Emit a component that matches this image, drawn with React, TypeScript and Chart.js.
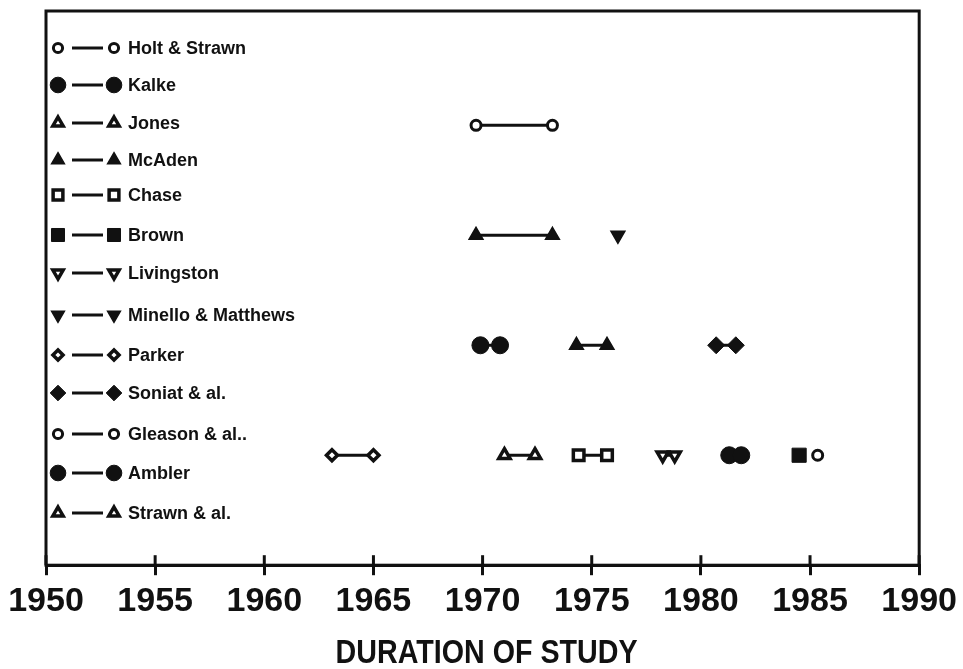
import React, { useEffect, useRef } from "react";
import { Chart, registerables } from "chart.js";
import { drawPoint } from "chart.js/helpers";

Chart.register(...registerables);

// ---- data ----
const studies = [
  "Holt & Strawn",
  "Kalke",
  "Jones",
  "McAden",
  "Chase",
  "Brown",
  "Livingston",
  "Minello & Matthews",
  "Parker",
  "Soniat & al.",
  "Gleason & al..",
  "Ambler",
  "Strawn & al.",
];

// each study period: which study, which row, start year, end year
const segStudy = [
  "Holt & Strawn",
  "McAden",
  "Minello & Matthews",
  "Kalke",
  "McAden",
  "Soniat & al.",
  "Parker",
  "Jones",
  "Chase",
  "Livingston",
  "Ambler",
  "Brown",
  "Gleason & al..",
];
const segRow = [4, 3, 3, 2, 2, 2, 1, 1, 1, 1, 1, 1, 1];
const segStart = [1969.7, 1969.7, 1976.2, 1969.9, 1974.3, 1980.7, 1963.1, 1971.0, 1974.4, 1978.25, 1981.3, 1984.5, 1985.35];
const segEnd = [1973.2, 1973.2, 1976.2, 1970.8, 1975.7, 1981.6, 1965.0, 1972.4, 1975.7, 1978.8, 1981.85, 1984.5, 1985.35];

const xMin = 1950;
const xMax = 1990;
const xStep = 5;
const axisTitle = "DURATION OF STUDY";

// ---- styles (per study, same order as `studies`) ----
type MStyle = { shape: string; filled: boolean; rot: number; r: number; bw: number };
const markerStyles: MStyle[] = [
  { shape: "circle", filled: false, rot: 0, r: 5, bw: 3 },
  { shape: "circle", filled: true, rot: 0, r: 8.5, bw: 1 },
  { shape: "triangle", filled: false, rot: 0, r: 6.5, bw: 3.5 },
  { shape: "triangle", filled: true, rot: 0, r: 8, bw: 1.5 },
  { shape: "rect", filled: false, rot: 0, r: 7.5, bw: 3.5 },
  { shape: "rect", filled: true, rot: 0, r: 10, bw: 1 },
  { shape: "triangle", filled: false, rot: 180, r: 6.5, bw: 3.5 },
  { shape: "triangle", filled: true, rot: 180, r: 8, bw: 1.5 },
  { shape: "rectRot", filled: false, rot: 0, r: 5.5, bw: 3.5 },
  { shape: "rectRot", filled: true, rot: 0, r: 8.5, bw: 1 },
  { shape: "circle", filled: false, rot: 0, r: 5, bw: 3 },
  { shape: "circle", filled: true, rot: 0, r: 8.5, bw: 1 },
  { shape: "triangle", filled: false, rot: 0, r: 6.5, bw: 3.5 },
];
const legendOffsets = [37, 74, 112, 149, 184, 224, 262, 304, 344, 382, 423, 462, 502];

const BLACK = "#111111";

const frameAndLegend = {
  id: "frameAndLegend",
  afterDraw(chart: any) {
    const { ctx, chartArea } = chart;
    const xs = chart.scales.x;
    ctx.save();
    // frame
    ctx.strokeStyle = BLACK;
    ctx.lineWidth = 3;
    ctx.strokeRect(chartArea.left, chartArea.top, chartArea.right - chartArea.left, chartArea.bottom - chartArea.top);
    // inward tick marks
    for (const t of xs.ticks) {
      const px = xs.getPixelForValue(t.value);
      ctx.beginPath();
      ctx.moveTo(px, chartArea.bottom);
      ctx.lineTo(px, chartArea.bottom - 10);
      ctx.stroke();
    }
    // axis title (condensed)
    ctx.font = "bold 34px 'Liberation Sans', Arial, sans-serif";
    ctx.textBaseline = "middle";
    ctx.textAlign = "center";
    ctx.fillStyle = BLACK;
    const w = ctx.measureText(axisTitle).width;
    const cx = (chartArea.left + chartArea.right) / 2 + 4;
    ctx.save();
    ctx.translate(cx, 654);
    ctx.scale(302 / w, 1);
    ctx.fillText(axisTitle, 0, 0);
    ctx.restore();
    // legend
    ctx.font = "bold 18px 'Liberation Sans', Arial, sans-serif";
    ctx.textBaseline = "middle";
    ctx.textAlign = "left";
    studies.forEach((name, i) => {
      const st = markerStyles[i];
      const y = chartArea.top + legendOffsets[i];
      const x1 = chartArea.left + 12;
      const x2 = chartArea.left + 68;
      ctx.strokeStyle = BLACK;
      ctx.lineWidth = 3;
      ctx.beginPath();
      ctx.moveTo(chartArea.left + 26, y);
      ctx.lineTo(chartArea.left + 57, y);
      ctx.stroke();
      for (const x of [x1, x2]) {
        ctx.fillStyle = st.filled ? BLACK : "#ffffff";
        ctx.strokeStyle = BLACK;
        ctx.lineWidth = st.bw;
        drawPoint(ctx, { pointStyle: st.shape, rotation: st.rot, radius: st.r * 0.92, borderWidth: st.bw } as any, x, y);
      }
      ctx.fillStyle = BLACK;
      ctx.fillText(name, chartArea.left + 82, y + 1);
    });
    ctx.restore();
  },
};

export default function App() {
  const ref = useRef<HTMLCanvasElement>(null);
  useEffect(() => {
    document.body.style.margin = "0";
    document.body.style.overflow = "hidden";
    const datasets = segStudy.map((name, i) => {
      const st = markerStyles[studies.indexOf(name)];
      const pts =
        segStart[i] === segEnd[i]
          ? [{ x: segStart[i], y: segRow[i] }]
          : [
              { x: segStart[i], y: segRow[i] },
              { x: segEnd[i], y: segRow[i] },
            ];
      return {
        label: name,
        data: pts,
        showLine: true,
        borderColor: BLACK,
        borderWidth: 3,
        pointStyle: st.shape,
        pointRotation: st.rot,
        pointRadius: st.r,
        pointBackgroundColor: st.filled ? BLACK : "#ffffff",
        pointBorderColor: BLACK,
        pointBorderWidth: st.bw,
      };
    });
    const chart = new Chart(ref.current!, {
      type: "line",
      data: { datasets },
      options: {
        responsive: false,
        animation: false,
        layout: { padding: { left: 46, right: 43, top: 11, bottom: 41 } },
        plugins: { legend: { display: false }, tooltip: { enabled: false } },
        scales: {
          x: {
            type: "linear",
            min: xMin,
            max: xMax,
            ticks: {
              stepSize: xStep,
              color: BLACK,
              padding: 6,
              font: { family: "'Liberation Sans', Arial, sans-serif", size: 34, weight: "bold" },
              callback: (v: any) => String(v),
            },
            grid: { drawOnChartArea: false, drawTicks: true, tickLength: 10, color: BLACK, lineWidth: 3 },
            border: { display: true, color: BLACK, width: 3 },
            title: { display: false },
          },
          y: { type: "linear", min: 0, max: 5.04, display: false },
        },
      },
      plugins: [frameAndLegend],
    } as any);
    return () => chart.destroy();
  }, []);
  return (
    <div style={{ width: 963, height: 669 }}>
      <canvas ref={ref} width={963} height={669} />
    </div>
  );
}
